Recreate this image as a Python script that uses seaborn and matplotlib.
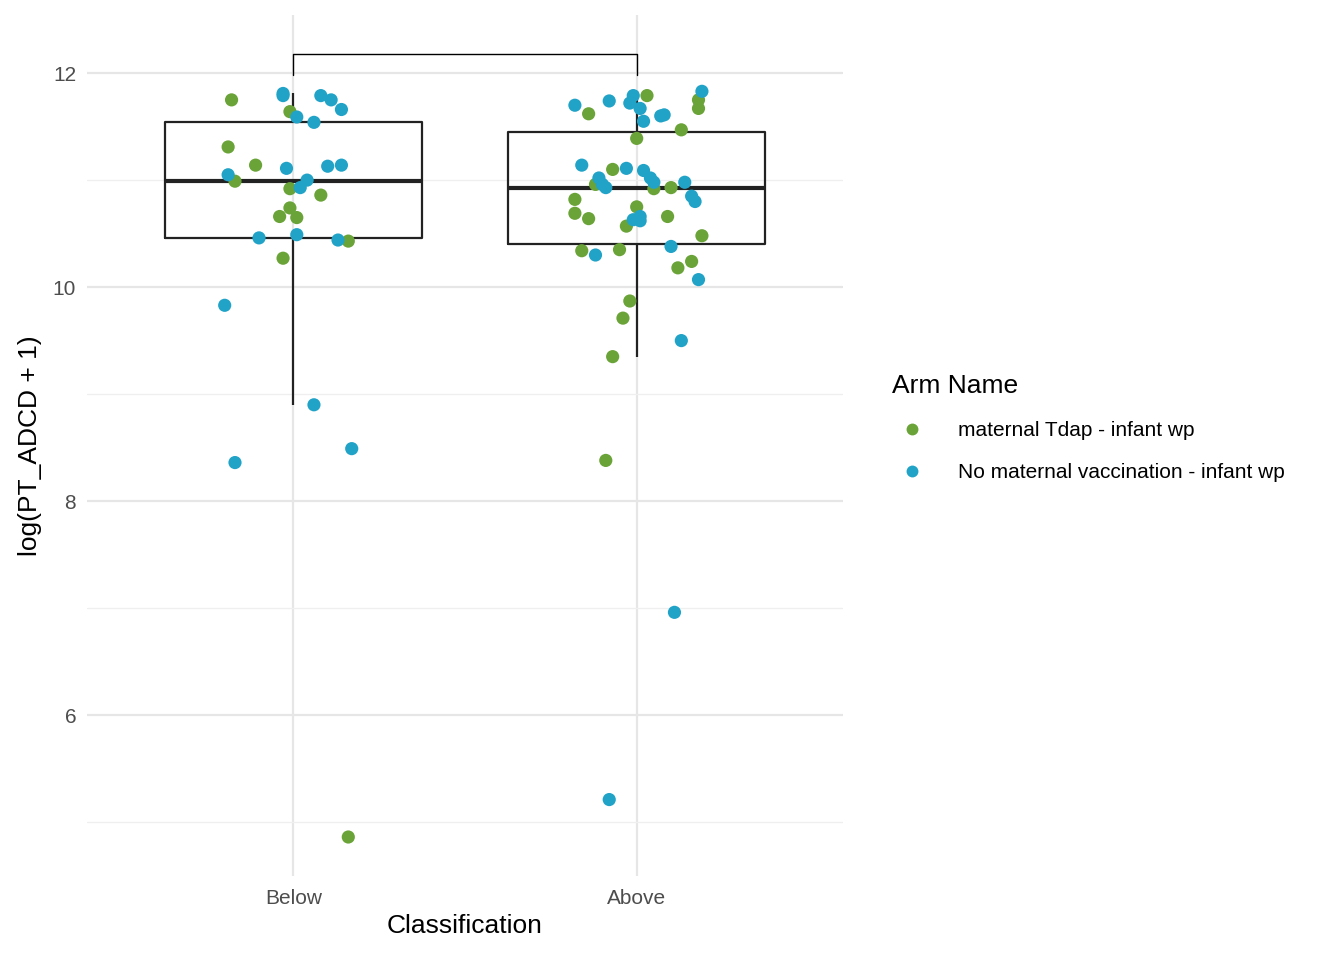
import pandas as pd
import matplotlib.pyplot as plt
import seaborn as sns

# ----------------------------- data -----------------------------
groups = ["Below", "Above"]
arms = ["maternal Tdap - infant wp", "No maternal vaccination - infant wp"]
colors = ["#6aa338", "#21a3c8"]

below_tdap_y = [11.75, 11.31, 11.14, 10.99, 11.64, 10.92, 10.86, 10.66, 10.74, 10.65, 10.27, 10.43, 4.86]
below_tdap_jit = [-0.18, -0.19, -0.11, -0.17, -0.01, -0.01, 0.08, -0.04, -0.01, 0.01, -0.03, 0.16, 0.16]
below_none_y = [11.81, 11.79, 11.59, 11.54, 11.79, 11.75, 11.66, 11.11, 11.13, 11.14, 11.05, 11.00,
                10.93, 10.46, 10.49, 10.44, 9.83, 8.90, 8.36, 8.49]
below_none_jit = [-0.03, -0.03, 0.01, 0.06, 0.08, 0.11, 0.14, -0.02, 0.10, 0.14, -0.19, 0.04,
                  0.02, -0.10, 0.01, 0.13, -0.20, 0.06, -0.17, 0.17]
above_tdap_y = [11.62, 11.79, 11.75, 11.67, 11.39, 11.47, 11.10, 10.96, 10.92, 10.93, 10.82, 10.69, 10.64,
                10.75, 10.66, 10.57, 10.34, 10.35, 10.48, 10.18, 10.24, 9.87, 9.71, 9.35, 8.38]
above_tdap_jit = [-0.14, 0.03, 0.18, 0.18, 0.00, 0.13, -0.07, -0.12, 0.05, 0.10, -0.18, -0.18, -0.14,
                  0.00, 0.09, -0.03, -0.16, -0.05, 0.19, 0.12, 0.16, -0.02, -0.04, -0.07, -0.09]
above_none_y = [11.70, 11.74, 11.79, 11.72, 11.67, 11.55, 11.61, 11.60, 11.83, 11.14, 11.11, 11.09, 11.02,
                10.96, 10.93, 11.02, 10.98, 10.98, 10.85, 10.80, 10.66, 10.63, 10.62, 10.30, 10.38,
                10.07, 9.50, 6.96, 5.21]
above_none_jit = [-0.18, -0.08, -0.01, -0.02, 0.01, 0.02, 0.08, 0.07, 0.19, -0.16, -0.03, 0.02, -0.11,
                  -0.10, -0.09, 0.04, 0.05, 0.14, 0.16, 0.17, 0.01, -0.01, 0.01, -0.12, 0.10,
                  0.18, 0.13, 0.11, -0.08]

rows = []
for gi, g, arm, ys, js in [(0, "Below", arms[0], below_tdap_y, below_tdap_jit),
                           (0, "Below", arms[1], below_none_y, below_none_jit),
                           (1, "Above", arms[0], above_tdap_y, above_tdap_jit),
                           (1, "Above", arms[1], above_none_y, above_none_jit)]:
    for y, j in zip(ys, js):
        rows.append({"Classification": g, "Arm Name": arm, "value": y, "xpos": gi + j})
df = pd.DataFrame(rows)

# ----------------------------------- plot -----------------------------------
sns.set_style("whitegrid")
plt.rcParams["font.family"] = ["Liberation Sans", "DejaVu Sans"]

fig = plt.figure(figsize=(13.44, 9.6), dpi=100)
ax = fig.add_axes([0.065, 0.088, 0.562, 0.896])

sns.boxplot(data=df, x="Classification", y="value", order=groups, width=0.75,
            showfliers=False, showcaps=False, fill=False, color="#222222", linewidth=1.6,
            medianprops={"linewidth": 3}, ax=ax)
sns.scatterplot(data=df, x="xpos", y="value", hue="Arm Name", hue_order=arms,
                palette=colors, s=90, edgecolor="none", ax=ax, zorder=3)

# bracket
ax.plot([0, 0, 1, 1], [11.98, 12.18, 12.18, 11.98], color="black", lw=1)

ax.set_xlim(-0.6, 1.6)
ax.set_ylim(4.5, 12.54)
ax.set_yticks([6, 8, 10, 12])
ax.set_yticks([5, 7, 9, 11], minor=True)
ax.set_xticks([0, 1])
ax.set_xticklabels(groups)
ax.grid(True, which="major", color="#e6e6e6", lw=1.6)
ax.grid(True, which="minor", color="#efefef", lw=0.9)
ax.tick_params(axis="both", which="both", length=0, labelsize=15, labelcolor="#4d4d4d")
ax.tick_params(axis="x", pad=10)
ax.tick_params(axis="y", pad=8)
for s in ax.spines.values():
    s.set_visible(False)
ax.set_xlabel("Classification", fontsize=19, color="black", labelpad=4)
ax.set_ylabel("log(PT_ADCD + 1)", fontsize=19, color="black", labelpad=8)

leg = ax.legend(title="Arm Name", loc="center left", bbox_to_anchor=(1.04, 0.52), frameon=False,
                fontsize=15, title_fontsize=19, markerscale=0.9, labelspacing=1.1,
                handletextpad=1.2, alignment="left")
leg.get_title().set_color("black")
for t in leg.get_texts():
    t.set_color("black")

fig.savefig("out.png", dpi=100)
